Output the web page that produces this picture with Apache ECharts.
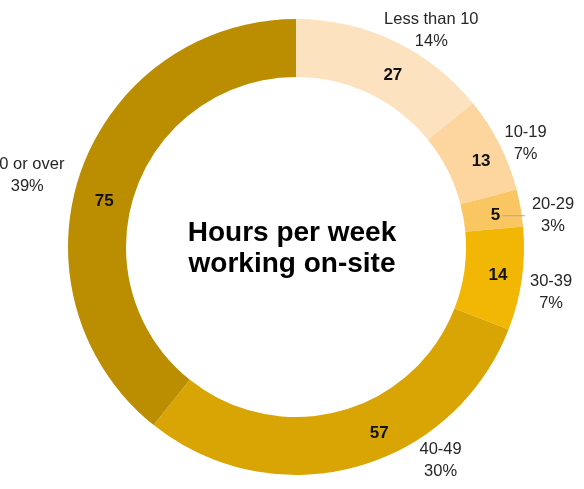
<!DOCTYPE html>
<html>
<head>
<meta charset="utf-8">
<script src="https://cdn.jsdelivr.net/npm/echarts@6/dist/echarts.min.js"></script>
<style>
  html, body { margin: 0; padding: 0; background: #fff; }
  #chart { width: 584px; height: 489px; }
</style>
</head>
<body>
<div id="chart"></div>
<script>
// Respondents by weekly on-site hours
const categories = ['Less than 10', '10-19', '20-29', '30-39', '40-49', '60 or over'];
const counts = [27, 13, 5, 14, 57, 75];
const sliceColors = ['#FDE2C0', '#FCD69E', '#FAC662', '#F2B705', '#D8A504', '#BB8E02'];
const titleLines = ['Hours per week', 'working on-site'];

// Ring geometry (px)
const CX = 296, CY = 247, R_IN = 170, R_OUT = 228;
// Label placement: angular shift (deg) from the slice middle, and distance from centre
const valueShift = [4, 2, 1, 0, -9, -6];
const valueRadius = [197, 204, 202, 204, 204, 197];
const nameShift = [6.6, 2.5, 2.8, 2, -19, -4.5];
const nameRadius = [255, 252, 259, 259, 258, 278];
// slice whose count gets a leader line out to its name label
const leaderIndex = 2;
const FONT = '"Liberation Sans", Arial, sans-serif';

const total = counts.reduce((a, b) => a + b, 0);
function midAngle(i) {
  let before = 0;
  for (let k = 0; k < i; k++) before += counts[k];
  return (before + counts[i] / 2) / total * 360;
}
function polar(deg, r) {
  const a = deg * Math.PI / 180;
  return [CX + r * Math.sin(a), CY - r * Math.cos(a)];
}
function valuePos(i) { return polar(midAngle(i) + valueShift[i], valueRadius[i]); }
function namePos(i) { return polar(midAngle(i) + nameShift[i], nameRadius[i]); }

const chart = echarts.init(document.getElementById('chart'), null, { renderer: 'canvas' });

const [lvx, lvy] = valuePos(leaderIndex);
const [lnx] = namePos(leaderIndex);

chart.setOption({
  animation: false,
  backgroundColor: '#ffffff',
  title: {
    text: titleLines.join('\n'),
    left: 'center',
    top: 218,
    padding: 0,
    textStyle: { fontFamily: FONT, fontSize: 28, fontWeight: 'bold', lineHeight: 31, color: '#000' }
  },
  graphic: [{
    type: 'line',
    z: 100,
    silent: true,
    shape: { x1: lvx + 7, y1: lvy, x2: lnx - 28, y2: lvy },
    style: { stroke: '#A6A6A6', lineWidth: 1 }
  }],
  series: [
    {
      // coloured ring with the counts inside each slice
      type: 'pie',
      center: [CX, CY],
      radius: [R_IN, R_OUT],
      startAngle: 90,
      clockwise: true,
      silent: true,
      avoidLabelOverlap: false,
      data: categories.map((c, i) => ({ name: c, value: counts[i], itemStyle: { color: sliceColors[i] } })),
      itemStyle: { borderWidth: 0 },
      label: {
        show: true, position: 'inside', formatter: '{c}',
        fontFamily: FONT, fontSize: 17, fontWeight: 'bold', color: '#111'
      },
      labelLine: { show: false },
      labelLayout: (p) => {
        const [x, y] = valuePos(p.dataIndex);
        return { x, y, align: 'center', verticalAlign: 'middle' };
      }
    },
    {
      // transparent twin carrying the category name and share outside the ring
      type: 'pie',
      center: [CX, CY],
      radius: [R_IN, R_OUT],
      startAngle: 90,
      clockwise: true,
      silent: true,
      percentPrecision: 0,
      avoidLabelOverlap: false,
      data: categories.map((c, i) => ({ name: c, value: counts[i] })),
      itemStyle: { color: 'rgba(0,0,0,0)', borderWidth: 0 },
      label: {
        show: true, position: 'outside', formatter: '{b}\n{d}%',
        fontFamily: FONT, fontSize: 16.5, lineHeight: 22, color: '#262626', align: 'center'
      },
      labelLine: { show: false },
      labelLayout: (p) => {
        const [x, y] = namePos(p.dataIndex);
        return { x, y, align: 'center', verticalAlign: 'middle' };
      }
    }
  ]
});
</script>
</body>
</html>
